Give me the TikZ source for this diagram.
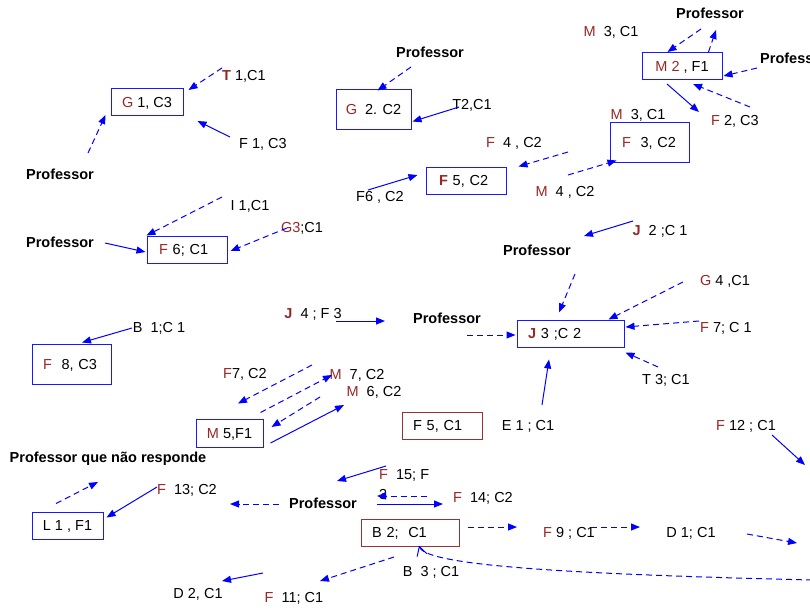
\documentclass[tikz,border=0pt]{standalone}
\usepackage{fontspec}
\setmainfont{Liberation Sans}
\usepackage{xcolor}
\usepackage{tikz}
\usetikzlibrary{arrows.meta}
\definecolor{LetterRed}{RGB}{153,38,38}
\definecolor{BoxBlue}{RGB}{25,25,255}
\definecolor{BoxRed}{RGB}{150,50,50}
\definecolor{ArrBlue}{RGB}{0,0,255}
\newcommand{\redl}[1]{\textcolor{LetterRed}{#1}}
\newcommand{\redb}[1]{\textcolor{LetterRed}{\bfseries #1}}

\begin{document}
\begin{tikzpicture}[
  x=1pt, y=-1pt,
  font=\fontsize{14.5}{17}\selectfont,
  box/.style={draw=BoxBlue, line width=1pt, inner sep=0pt, minimum height=27pt,
              text height=10.4pt, text depth=0pt},
  rbox/.style={box, draw=BoxRed},
  lab/.style={inner sep=1pt, text height=10.4pt, text depth=0pt},
  prof/.style={lab, font=\fontsize{14.5}{17}\selectfont\bfseries},
  arr/.style={-{Triangle[length=9pt,width=7pt]}, line width=1pt, color=ArrBlue},
  darr/.style={arr, dash pattern=on 6pt off 4pt},
]
\useasboundingbox (0,0) rectangle (810,613);
%% Boxes
\node[box, minimum width=72pt] (g1) at (147,102) {\redl{G} 1, C3};
\node[box, minimum width=75pt, minimum height=40pt] (g2) at (373.5,109) {\redl{G}\ \ 2. C2};
\node[box, minimum width=80pt] (m2) at (682,66) {\redl{M 2} , F1};
\node[box, minimum height=40pt, text width=55pt, inner xsep=12pt, align=left] (f3) at (649.5,142) {\redl{F}\ \ 3, C2};
\node[box, text width=54pt, inner xsep=13pt, align=left] (f5c2) at (466,180.5) {\redb{F} 5, C2};
\node[box, text width=56pt, inner xsep=12pt, align=left] (f6) at (187,249.5) {\redl{F} 6; C1};
\node[box, minimum height=40pt, text width=57pt, inner xsep=11pt, align=left] (f8) at (71.5,364) {\redl{F}\ \ 8, C3};
\node[box, text width=85pt, inner xsep=11pt, align=left] (j3) at (570.5,333.5) {\redb{J} 3 ;C 2};
\node[box, minimum width=67pt, minimum height=28pt] (m5) at (229.5,433) {\redl{M} 5,F1};
\node[box, minimum width=71pt] (l1) at (67.5,525.5) {L 1 , F1};
\node[rbox, text width=58pt, inner xsep=11pt, align=left] (f5c1) at (442,425.5) {F 5, C1};
\node[rbox, text width=76pt, inner xsep=11pt, align=left] (b2) at (410,532.5) {B 2;\ \ C1};
%% Professors
\node[prof] (p1) at (60,174) {Professor};
\node[prof] (p2) at (430,52) {Professor};
\node[prof] (p3) at (710,13) {Professor};
\node[prof, anchor=west] (p4) at (759,58) {Professor};
\node[prof] (p5) at (60,242) {Professor};
\node[prof] (p6) at (447,318) {Professor};
\node[prof] (p7) at (537,250) {Professor};
\node[prof] (p8) at (323,503) {Professor};
\node[prof] (pq) at (108,457) {Professor que não responde};
%% Labels
\node[lab] (t1) at (244,75) {\redb{T} 1,C1};
\node[lab] (f1) at (263,143) {F 1, C3};
\node[lab] (t2) at (472,104) {T2,C1};
\node[lab] (f4) at (514,142) {\redl{F}\ \ 4 , C2};
\node[lab] (m4) at (565,191) {\redl{M}\ \ 4 , C2};
\node[lab] (f6c2) at (380,196) {F6 , C2};
\node[lab] (m3a) at (611,31) {\redl{M}\ \ 3, C1};
\node[lab] (m3b) at (638,114) {\redl{M}\ \ 3, C1};
\node[lab] (f2) at (735,120) {\redl{F} 2, C3};
\node[lab] (i1) at (250,205) {I 1,C1};
\node[lab] (g3) at (302,227) {\redl{G3};C1};
\node[lab] (b1) at (159,327) {B\ \ 1;C 1};
\node[lab] (f7c2) at (245,373) {\redl{F}7, C2};
\node[lab] (m7) at (357,374) {\redl{M}\ \ 7, C2};
\node[lab] (m6) at (374,391) {\redl{M}\ \ 6, C2};
\node[lab] (j4) at (313,313) {\redb{J}\ \ 4 ; F 3};
\node[lab] (j2) at (660,230) {\redb{J}\ \ 2 ;C 1};
\node[lab] (g4) at (725,280) {\redl{G} 4 ,C1};
\node[lab] (f7c1) at (726,327) {\redl{F} 7; C 1};
\node[lab] (t3) at (666,379) {T 3; C1};
\node[lab] (e1) at (528,425) {E 1 ; C1};
\node[lab] (f12) at (746,425) {\redl{F} 12 ; C1};
\node[lab] (f13) at (187,489) {\redl{F}\ \ 13; C2};
\node[anchor=north west, inner sep=0pt, align=left, font=\fontsize{14.5}{20}\selectfont] (f15) at (379,469) {\redl{F}\ \ 15; F\\3};
\node[lab] (f14) at (483,497) {\redl{F}\ \ 14; C2};
\node[lab] (f9) at (569,532) {\redl{F} 9 ; C1};
\node[lab] (d1) at (691,532) {D 1; C1};
\node[lab] (b3) at (431,571) {B\ \ 3 ; C1};
\node[lab] (d2) at (198,593) {D 2, C1};
\node[lab] (f11) at (294,597) {\redl{F}\ \ 11; C1};
\coordinate (out12) at (805,465);
\coordinate (out1) at (797,543);
\coordinate (out2) at (812,580);
%% Arrows G1, G2
\draw[darr] ([shift={(-22,-7)}]t1.center) -- ([shift={(5,2)}]g1.north east);
\draw[arr] ([shift={(-33,-6)}]f1.center) -- ([shift={(14,5)}]g1.south east);
\draw[darr] ([shift={(28,-21)}]p1.center) -- ([shift={(-5,-1)}]g1.south west);
\draw[darr] ([shift={(-19,15)}]p2.center) -- ([shift={(4,2)}]g2.north);
\draw[arr] ([shift={(-13,3)}]t2.center) -- ([shift={(1,-8)}]g2.south east);
%% Arrows F5,C2 and F3
\draw[darr] ([shift={(54,10)}]f4.center) -- ([shift={(12,0)}]f5c2.north east);
\draw[arr] ([shift={(-12,-6)}]f6c2.center) -- ([shift={(-8,-5.5)}]f5c2.west);
\draw[darr] ([shift={(3,-16)}]m4.center) -- ([shift={(7,-2)}]f3.south west);
%% Arrows M2
\draw[darr] ([shift={(-9,16)}]p3.center) -- ([shift={(26,0)}]m2.north west);
\draw[darr] ([shift={(-14,0)}]m2.north east) -- ([shift={(6,17)}]p3.center);
\draw[darr] ([shift={(-2,10)}]p4.west) -- ([shift={(1,-4)}]m2.south east);
\draw[arr] ([shift={(-15,4)}]m2.south) -- ([shift={(-36,-8)}]f2.center);
\draw[darr] ([shift={(15,-13)}]f2.center) -- ([shift={(11,4)}]m2.south);
%% Arrows F6, F8
\draw[darr] ([shift={(-28,-8)}]i1.center) -- (f6.north west);
\draw[darr] ([shift={(-15,1)}]g3.center) -- ([shift={(3,1.5)}]f6.east);
\draw[arr] ([shift={(45,1)}]p5.center) -- ([shift={(-1,2.5)}]f6.west);
\draw[arr] ([shift={(-27,1)}]b1.center) -- ([shift={(10.5,-1)}]f8.north);
%% Arrows J3
\draw[arr] ([shift={(23,8)}]j4.center) -- ([shift={(-62,3)}]p6.center);
\draw[darr] ([shift={(20,17)}]p6.center) -- ([shift={(-1,1.5)}]j3.west);
\draw[darr] ([shift={(38,24)}]p7.center) -- ([shift={(-11.5,-7)}]j3.north);
\draw[arr] ([shift={(-27,-9)}]j2.center) -- ([shift={(47,-14)}]p7.center);
\draw[darr] ([shift={(-42,2)}]g4.center) -- ([shift={(-16,0)}]j3.north east);
\draw[darr] ([shift={(-27,-6)}]f7c1.center) -- ([shift={(1,-6.5)}]j3.east);
\draw[darr] ([shift={(-8,-12)}]t3.center) -- ([shift={(1,5)}]j3.south east);
\draw[arr] ([shift={(14,-20)}]e1.center) -- ([shift={(-21.5,12)}]j3.south);
%% Arrows M5
\draw[darr] ([shift={(-45,-9)}]m7.center) -- ([shift={(8.5,-15)}]m5.north);
\draw[darr] ([shift={(-3,-6)}]m5.north east) -- ([shift={(-25,1)}]m7.center);
\draw[darr] ([shift={(-54,6)}]m6.center) -- ([shift={(8,-6)}]m5.east);
\draw[arr] ([shift={(7,10)}]m5.east) -- ([shift={(-30,14)}]m6.center);
%% Arrows bottom
\draw[arr] ([shift={(26,10)}]f12.center) -- (out12);
\draw[arr] ([shift={(7,-3)}]f15.north west) -- ([shift={(14,-22)}]p8.center);
\draw[darr] ([shift={(-56,-1)}]f14.center) -- ([shift={(-2,27)}]f15.north west);
\draw[arr] ([shift={(54,1)}]p8.center) -- ([shift={(-40,7)}]f14.center);
\draw[darr] ([shift={(-44,1)}]p8.center) -- ([shift={(43,15)}]f13.center);
\draw[arr] ([shift={(-30,-2)}]f13.center) -- ([shift={(3,6)}]l1.north east);
\draw[darr] ([shift={(-11.5,-8)}]l1.north) -- ([shift={(-10,25)}]pq.center);
\draw[darr] ([shift={(8,-5.5)}]b2.east) -- ([shift={(-52,-5)}]f9.center);
\draw[darr] ([shift={(22,-5)}]f9.center) -- ([shift={(-51,-5)}]d1.center);
\draw[darr] ([shift={(56,2)}]d1.center) -- (out1);
\draw[arr] ([shift={(-31,-24)}]f11.center) -- ([shift={(24,-12)}]d2.center);
\draw[darr] ([shift={(-37,-14)}]b3.center) -- ([shift={(26,-16)}]f11.center);
\draw[darr, -{Straight Barb[length=9pt,width=10pt]}]
  (out2) .. controls (560,574) and (425,565) .. ([shift={(9,-1)}]b2.south);
\end{tikzpicture}
\end{document}
